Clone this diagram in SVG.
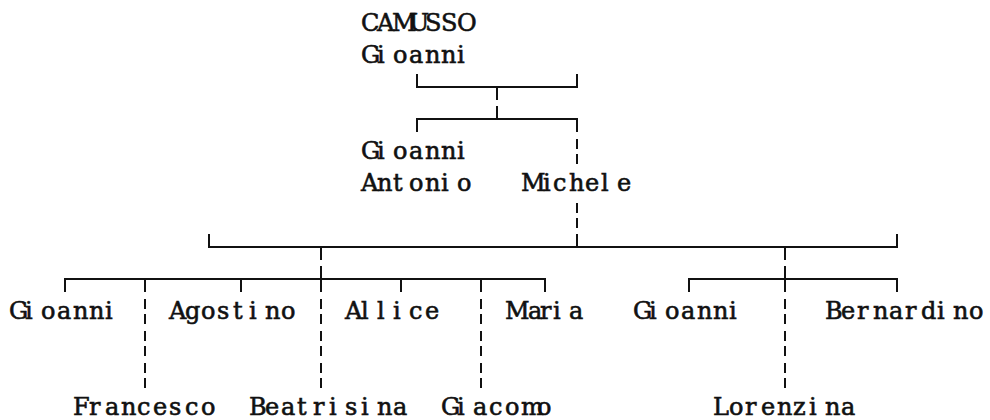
<svg xmlns="http://www.w3.org/2000/svg" width="990" height="420" viewBox="0 0 990 420">
<style>
  .t { font-family: "DejaVu Serif", "Liberation Serif", serif; font-size: 24px; fill: #111; stroke: #111; stroke-width: 0.6; }
  .ln { fill: none; stroke: #111; stroke-width: 2; }
  .ds { fill: none; stroke: #111; stroke-width: 2; stroke-dasharray: 10 5 10 7; }
</style>
<rect width="990" height="420" fill="#fff"/>
<g id="connectors">
  <path class="ln" d="M417,74 V87 H577 V74 M497,87 V100"/>
  <path class="ln" d="M417,132 V119 H577 V132 M497,106 V119"/>
  <path class="ds" d="M577,139 V164"/>
  <path class="ds" d="M577,203 V228"/>
  <path class="ln" d="M209,234 V247 H897 V234 M577,234 V247 M321,247 V260 M785,247 V260"/>
  <path class="ln" d="M65,292 V279 H545 V292 M145,279 V292 M241,279 V292 M321,266 V292 M401,279 V292 M481,279 V292"/>
  <path class="ln" d="M689,292 V279 H897 V292 M785,266 V292"/>
  <path class="ds" d="M145,299 V388 M321,299 V388 M481,299 V388 M785,299 V388"/>
</g>
<g id="camusso-gioanni">
  <text class="t" y="31" x="361 377 392 409 425 441 457">CAMUSSO</text>
  <text class="t" y="63" x="361 377 393 409 425 441 457">Gioanni</text>
</g>
<g id="gioanni-antonio">
  <text class="t" y="159" x="361 377 393 409 425 441 457">Gioanni</text>
  <text class="t" y="191" x="361 377 393 409 425 441 457">Antonio</text>
</g>
<g id="michele">
  <text class="t" y="191" x="521 543 553 569 585 601 617">Michele</text>
</g>
<g id="gioanni-1">
  <text class="t" y="319" x="9 25 41 57 73 89 105">Gioanni</text>
</g>
<g id="agostino">
  <text class="t" y="319" x="169 185 201 217 233 249 265 281">Agostino</text>
</g>
<g id="allice">
  <text class="t" y="319" x="345 361 377 393 409 425">Allice</text>
</g>
<g id="maria">
  <text class="t" y="319" x="505 528 540 553 569">Maria</text>
</g>
<g id="gioanni-2">
  <text class="t" y="319" x="633 649 665 681 697 713 729">Gioanni</text>
</g>
<g id="bernardino">
  <text class="t" y="319" x="825 841 857 873 889 905 921 937 953 969">Bernardino</text>
</g>
<g id="francesco">
  <text class="t" y="415" x="73 89 105 121 137 153 169 185 201">Francesco</text>
</g>
<g id="beatrisina">
  <text class="t" y="415" x="249 265 281 297 313 329 345 361 377 393">Beatrisina</text>
</g>
<g id="giacomo">
  <text class="t" y="415" x="441 457 473 489 505 521 537">Giacomo</text>
</g>
<g id="lorenzina">
  <text class="t" y="415" x="713 729 745 761 777 793 809 825 841">Lorenzina</text>
</g>
</svg>
